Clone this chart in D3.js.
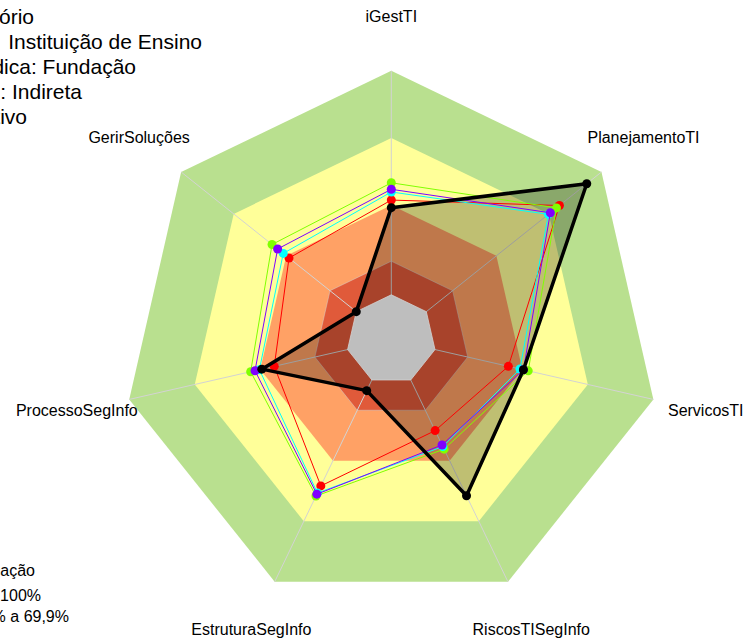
<!DOCTYPE html>
<html lang="pt">
<head>
    <meta charset="UTF-8">
    <title>Radar</title>
    <script src="https://d3js.org/d3.v7.min.js"></script>
    <style>
        body { margin: 0; background: #fff; }
        svg { display: block; font-family: "Liberation Sans", Arial, sans-serif; }
    </style>
</head>
<body>
<div id="chart"></div>
<script>
    // axes (clockwise from top)
    const axes = ["iGestTI", "PlanejamentoTI", "ServicosTI", "RiscosTISegInfo",
                  "EstruturaSegInfo", "ProcessoSegInfo", "GerirSoluções"];

    // series values, in %
    const redValues    = [42.3, 76.0, 33.6, 25.1, 52.5, 33.6, 38.4];
    const greenValues  = [50.0, 74.3, 42.7, 34.3, 57.5, 44.4, 48.1];
    const cyanValues   = [45.9, 69.7, 38.9, 33.0, 56.0, 40.4, 41.7];
    const purpleValues = [47.1, 70.8, 40.5, 32.2, 56.6, 42.4, 44.9];
    const blackValues  = [38.9, 91.6, 40.5, 57.4, 5.3, 39.3, 0];

    // background bands: upper limit of each level, in %
    const bandLimits = [100, 70, 40, 15];
    const bandColors = ["#B9E08F", "#FFFF99", "#FFA165", "#E05A3A"];

    const titleLines = ["Relatório", "Tipo de Órgão  Instituição de Ensino", "Natureza Jurídica: Fundação",
                        "Administração: Indireta", "Poder: Executivo"];
    const titleEnds = [34, 202, 136, 82, 27];

    const legendTitle = "Classificação";
    const legendLines = ["Aprimorado: 70% a 100%", "Intermediário: 40% a 69,9%"];

    const width = 744, height = 641;
    const cx = 391.3, cy = 339.6, R = 268.8;

    const svg = d3.select("#chart").append("svg")
        .attr("width", width)
        .attr("height", height);

    const r = d3.scaleLinear().domain([0, 100]).range([R / 6, R]);
    const angle = d3.scaleLinear().domain([0, axes.length]).range([-Math.PI / 2, 1.5 * Math.PI]);

    const px = (i, v) => cx + r(v) * Math.cos(angle(i));
    const py = (i, v) => cy + r(v) * Math.sin(angle(i));
    const polyPoints = vals => vals.map((v, i) => [px(i, v), py(i, v)].join(",")).join(" ");
    const flat = v => axes.map(() => v);

    // bands
    svg.append("g").selectAll("polygon")
        .data(bandLimits)
        .join("polygon")
        .attr("points", d => polyPoints(flat(d)))
        .attr("fill", (d, i) => bandColors[i]);

    // axis lines
    svg.append("g").selectAll("line")
        .data(axes)
        .join("line")
        .attr("x1", cx).attr("y1", cy)
        .attr("x2", (d, i) => px(i, 100))
        .attr("y2", (d, i) => py(i, 100))
        .attr("stroke", "#D3D3D3")
        .attr("stroke-width", 1);

    // outline of the 15% level
    svg.append("polygon")
        .attr("points", polyPoints(flat(15)))
        .attr("fill", "none")
        .attr("stroke", "#D3D3D3")
        .attr("stroke-opacity", 0.6)
        .attr("stroke-width", 0.8);

    // black series fill
    svg.append("polygon")
        .attr("points", polyPoints(blackValues))
        .attr("fill", "#000")
        .attr("fill-opacity", 0.25);

    // center core
    svg.append("polygon")
        .attr("points", polyPoints(flat(0)))
        .attr("fill", "#BEBEBE")
        .attr("stroke", "#D3D3D3")
        .attr("stroke-width", 0.8);

    const series = [
        { values: redValues, color: "#FF0000", lw: 1, pr: 4.5 },
        { values: greenValues, color: "#80FF00", lw: 1, pr: 4.5 },
        { values: cyanValues, color: "#00FFFF", lw: 1, pr: 4.5 },
        { values: purpleValues, color: "#8000FF", lw: 1, pr: 4.5 },
        { values: blackValues, color: "#000000", lw: 3.5, pr: 4.5 }
    ];

    series.forEach(s => {
        svg.append("polygon")
            .attr("points", polyPoints(s.values))
            .attr("fill", "none")
            .attr("stroke", s.color)
            .attr("stroke-width", s.lw)
            .attr("stroke-linejoin", "round");
        svg.append("g").selectAll("circle")
            .data(s.values)
            .join("circle")
            .attr("cx", (d, i) => px(i, d))
            .attr("cy", (d, i) => py(i, d))
            .attr("r", s.pr)
            .attr("fill", s.color);
    });

    // axis labels
    const labelR = R * 1.2;
    svg.append("g").selectAll("text")
        .data(axes)
        .join("text")
        .attr("x", (d, i) => cx + labelR * Math.cos(angle(i)))
        .attr("y", (d, i) => cy + labelR * Math.sin(angle(i)) + 5)
        .attr("text-anchor", "middle")
        .attr("font-size", 16)
        .attr("fill", "#000")
        .text(d => d);

    // title block (cut at left edge)
    svg.append("g").selectAll("text")
        .data(titleLines)
        .join("text")
        .attr("x", (d, i) => titleEnds[i])
        .attr("y", (d, i) => 24 + i * 25)
        .attr("text-anchor", "end")
        .attr("font-size", 21)
        .attr("xml:space", "preserve")
        .text(d => d);

    // legend (cut at left edge)
    svg.append("text")
        .attr("x", 35).attr("y", 576)
        .attr("text-anchor", "end")
        .attr("font-size", 16)
        .text(legendTitle);
    svg.append("g").selectAll("text")
        .data(legendLines)
        .join("text")
        .attr("x", (d, i) => [41, 69][i])
        .attr("y", (d, i) => 601 + i * 21)
        .attr("text-anchor", "end")
        .attr("font-size", 16)
        .text(d => d);
</script>
</body>
</html>
